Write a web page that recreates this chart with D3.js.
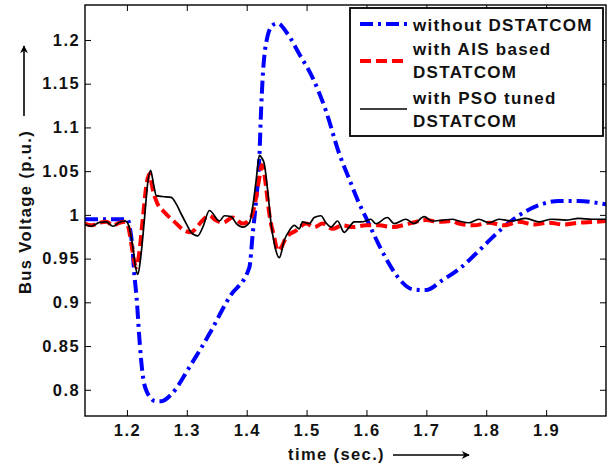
<!DOCTYPE html>
<html>
<head>
<meta charset="utf-8">
<script src="https://cdn.jsdelivr.net/npm/d3@7"></script>
<style>
  html, body { margin: 0; padding: 0; background: #fff; }
  svg { display: block; }
  text { font-family: Arial, "Liberation Sans", sans-serif; }
</style>
</head>
<body>
<svg id="chart" width="616" height="466"></svg>
<script>
// ---------------- data ----------------
const xTicks = [1.2, 1.3, 1.4, 1.5, 1.6, 1.7, 1.8, 1.9];
const xTickLabels = ["1.2", "1.3", "1.4", "1.5", "1.6", "1.7", "1.8", "1.9"];
const yTicks = [0.8, 0.85, 0.9, 0.95, 1.0, 1.05, 1.1, 1.15, 1.2];
const yTickLabels = ["0.8", "0.85", "0.9", "0.95", "1", "1.05", "1.1", "1.15", "1.2"];

const seriesNames = ["without DSTATCOM", "with AIS based|DSTATCOM", "with PSO tuned|DSTATCOM"];

// without DSTATCOM
const tWithout = [1.13, 1.17, 1.2012, 1.205, 1.2095, 1.212, 1.2162, 1.2212, 1.2262, 1.2337, 1.2478, 1.2578, 1.2745, 1.3045, 1.3378, 1.3712, 1.4045, 1.41, 1.4157, 1.4212, 1.424, 1.4267, 1.4323, 1.4433, 1.4517, 1.4683, 1.4878, 1.51, 1.5323, 1.5545, 1.5712, 1.5878, 1.599, 1.6328, 1.6545, 1.6767, 1.6995, 1.7262, 1.7545, 1.7878, 1.81, 1.8495, 1.8878, 1.9212, 1.9545, 1.9823, 2.0];
const vWithout = [0.995, 0.995, 0.995, 0.985, 0.960, 0.935, 0.905, 0.855, 0.818, 0.797, 0.787, 0.787, 0.795, 0.826, 0.864, 0.906, 0.940, 0.978, 1.016, 1.066, 1.119, 1.157, 1.196, 1.217, 1.219, 1.207, 1.184, 1.157, 1.119, 1.070, 1.041, 1.013, 0.997, 0.950, 0.927, 0.915, 0.914, 0.925, 0.938, 0.959, 0.974, 0.997, 1.011, 1.016, 1.016, 1.014, 1.012];

// with AIS based DSTATCOM
const tAis = [1.1295, 1.1407, 1.1545, 1.1657, 1.1767, 1.1878, 1.1973, 1.2017, 1.2078, 1.2128, 1.2157, 1.2203, 1.2267, 1.2328, 1.2378, 1.2428, 1.249, 1.2628, 1.2795, 1.2962, 1.3073, 1.3145, 1.324, 1.3378, 1.3478, 1.36, 1.3767, 1.3933, 1.4073, 1.4157, 1.4212, 1.4253, 1.4287, 1.4323, 1.4378, 1.4462, 1.4517, 1.4578, 1.4657, 1.4823, 1.499, 1.5128, 1.5267, 1.5433, 1.56, 1.5767, 1.599, 1.6212, 1.6433, 1.6712, 1.699, 1.7212, 1.7433, 1.7545, 1.7795, 1.8045, 1.8295, 1.8545, 1.8795, 1.9045, 1.9295, 1.9545, 1.9795, 2.0];
const vAis = [0.990, 0.988, 0.991, 0.992, 0.988, 0.991, 0.992, 0.988, 0.965, 0.945, 0.940, 0.955, 0.997, 1.035, 1.047, 1.030, 1.016, 1.003, 0.992, 0.982, 0.980, 0.984, 0.992, 0.999, 0.994, 0.991, 0.997, 0.990, 0.997, 1.020, 1.043, 1.057, 1.050, 1.032, 1.001, 0.974, 0.959, 0.963, 0.974, 0.982, 0.990, 0.986, 0.990, 0.984, 0.988, 0.986, 0.988, 0.988, 0.986, 0.990, 0.994, 0.992, 0.993, 0.990, 0.988, 0.991, 0.988, 0.992, 0.989, 0.991, 0.989, 0.991, 0.992, 0.993];

// with PSO tuned DSTATCOM
const tPso = [1.1295, 1.1407, 1.1545, 1.1657, 1.1767, 1.1878, 1.1973, 1.2017, 1.2095, 1.2145, 1.2183, 1.2228, 1.2295, 1.2345, 1.2395, 1.2445, 1.249, 1.2595, 1.274, 1.2828, 1.2907, 1.299, 1.3073, 1.3183, 1.3267, 1.3378, 1.3545, 1.3628, 1.374, 1.3828, 1.3933, 1.4045, 1.41, 1.4157, 1.4212, 1.4253, 1.4295, 1.435, 1.4407, 1.4462, 1.4545, 1.4628, 1.4712, 1.4795, 1.4878, 1.4933, 1.5045, 1.5128, 1.524, 1.5323, 1.5407, 1.5517, 1.5628, 1.5712, 1.5795, 1.5907, 1.599, 1.6073, 1.6157, 1.635, 1.6462, 1.6657, 1.6795, 1.6962, 1.71, 1.7267, 1.7433, 1.7545, 1.7712, 1.7878, 1.8045, 1.8212, 1.8428, 1.8662, 1.8878, 1.9095, 1.9328, 1.9545, 1.9762, 2.0];
const vPso = [0.989, 0.987, 0.9915, 0.992, 0.987, 0.9915, 0.993, 0.990, 0.965, 0.940, 0.932, 0.950, 0.997, 1.035, 1.051, 1.035, 1.022, 1.021, 1.020, 1.012, 1.001, 0.990, 0.980, 0.976, 0.986, 1.005, 0.993, 0.999, 0.998, 0.990, 0.986, 0.991, 1.009, 1.039, 1.068, 1.065, 1.058, 1.028, 0.990, 0.967, 0.951, 0.971, 0.982, 0.988, 0.984, 0.992, 0.990, 0.997, 0.999, 0.991, 0.986, 0.993, 0.980, 0.986, 0.992, 0.992, 0.993, 0.995, 0.990, 0.997, 0.990, 0.995, 0.990, 0.998, 0.993, 0.994, 0.995, 0.993, 0.991, 0.995, 0.991, 0.995, 0.993, 0.996, 0.992, 0.995, 0.994, 0.996, 0.995, 0.995];

// ---------------- layout ----------------
const plot = { left: 85, right: 606, top: 5, bottom: 416 };
const xDomain = [1.13, 2.0];
const yDomain = [0.77, 1.24];

const svg = d3.select("#chart");
const x = d3.scaleLinear().domain(xDomain).range([plot.left, plot.right]);
const y = d3.scaleLinear().domain(yDomain).range([plot.bottom, plot.top]);

const zip = (ts, vs) => ts.map((t, i) => [t, vs[i]]);

const styles = [
  { color: "#0000ff", width: 4, dash: "13,5,3,5", data: zip(tWithout, vWithout) },
  { color: "#ff0000", width: 4, dash: "11,5", data: zip(tAis, vAis) },
  { color: "#000000", width: 1.7, dash: null, data: zip(tPso, vPso) }
];

svg.append("defs").append("clipPath").attr("id", "clip")
  .append("rect").attr("x", plot.left).attr("y", plot.top)
  .attr("width", plot.right - plot.left).attr("height", plot.bottom - plot.top);

const line = d3.line().x(d => x(d[0])).y(d => y(d[1])).curve(d3.curveMonotoneX);

const g = svg.append("g").attr("clip-path", "url(#clip)");
styles.forEach(s => {
  g.append("path").datum(s.data)
    .attr("d", line)
    .attr("fill", "none")
    .attr("stroke", s.color)
    .attr("stroke-width", s.width)
    .attr("stroke-dasharray", s.dash)
    .attr("stroke-linejoin", "round");
});

// axes (box with inward ticks)
const tickLen = 6;
const fontCss = "font-size:16.5px;font-weight:bold;letter-spacing:1.4px;";

const xAxisB = d3.axisBottom(x).tickValues(xTicks).tickSizeInner(-tickLen).tickSizeOuter(0)
  .tickFormat((d, i) => xTickLabels[i]).tickPadding(8);
const xAxisT = d3.axisTop(x).tickValues(xTicks).tickSizeInner(-tickLen).tickSizeOuter(0).tickFormat("");
const yAxisL = d3.axisLeft(y).tickValues(yTicks).tickSizeInner(-tickLen).tickSizeOuter(0)
  .tickFormat((d, i) => yTickLabels[i]).tickPadding(5);
const yAxisR = d3.axisRight(y).tickValues(yTicks).tickSizeInner(-tickLen).tickSizeOuter(0).tickFormat("");

function styleAxis(sel) {
  sel.attr("font-family", null).attr("font-size", null);
  sel.select(".domain").remove();
  sel.selectAll(".tick line").attr("stroke", "#000").attr("stroke-width", 1);
  sel.selectAll(".tick text").attr("fill", "#111").attr("style", fontCss);
}

svg.append("g").attr("transform", `translate(0,${plot.bottom})`).call(xAxisB).call(styleAxis);
svg.append("g").attr("transform", `translate(0,${plot.top})`).call(xAxisT).call(styleAxis);
svg.append("g").attr("transform", `translate(${plot.left},0)`).call(yAxisL).call(styleAxis);
svg.append("g").attr("transform", `translate(${plot.right},0)`).call(yAxisR).call(styleAxis);

// frame
svg.append("rect").attr("x", plot.left).attr("y", plot.top)
  .attr("width", plot.right - plot.left).attr("height", plot.bottom - plot.top)
  .attr("fill", "none").attr("stroke", "#000").attr("stroke-width", 1.4);

// axis labels with arrows
svg.append("defs").append("marker").attr("id", "arrow")
  .attr("viewBox", "0 0 10 10").attr("refX", 9).attr("refY", 5)
  .attr("markerWidth", 11).attr("markerHeight", 8).attr("markerUnits", "userSpaceOnUse")
  .attr("orient", "auto")
  .append("path").attr("d", "M0,0 L10,5 L0,10 L3,5 Z").attr("fill", "#000");

svg.append("text")
  .attr("transform", "translate(31,212) rotate(-90)")
  .attr("text-anchor", "middle")
  .attr("style", fontCss)
  .attr("fill", "#111")
  .text("Bus Voltage (p.u.)");
svg.append("line").attr("x1", 24).attr("y1", 116).attr("x2", 24).attr("y2", 46)
  .attr("stroke", "#000").attr("stroke-width", 1.6).attr("marker-end", "url(#arrow)");

svg.append("text")
  .attr("x", 288).attr("y", 460)
  .attr("style", fontCss)
  .attr("fill", "#111")
  .text("time (sec.)");
svg.append("line").attr("x1", 393).attr("y1", 455).attr("x2", 469).attr("y2", 455)
  .attr("stroke", "#000").attr("stroke-width", 1.6).attr("marker-end", "url(#arrow)");

// legend
const leg = svg.append("g");
leg.append("rect").attr("x", 350).attr("y", 8).attr("width", 253).attr("height", 128)
  .attr("fill", "#fff").attr("stroke", "#000").attr("stroke-width", 1.8);
const legRows = [
  { ly: 24, texts: [31] },
  { ly: 61, texts: [55, 78] },
  { ly: 109, texts: [104, 127] }
];
styles.forEach((s, i) => {
  const r = legRows[i];
  leg.append("line").attr("x1", 360).attr("x2", 407).attr("y1", r.ly).attr("y2", r.ly)
    .attr("stroke", s.color).attr("stroke-width", s.dash ? 4 : 1.7)
    .attr("stroke-dasharray", s.dash);
  seriesNames[i].split("|").forEach((p, j) => {
    leg.append("text").attr("x", 413).attr("y", r.texts[j])
      .attr("style", "font-size:17px;font-weight:bold;letter-spacing:1.3px;")
      .attr("fill", "#111").text(p);
  });
});
</script>
</body>
</html>
